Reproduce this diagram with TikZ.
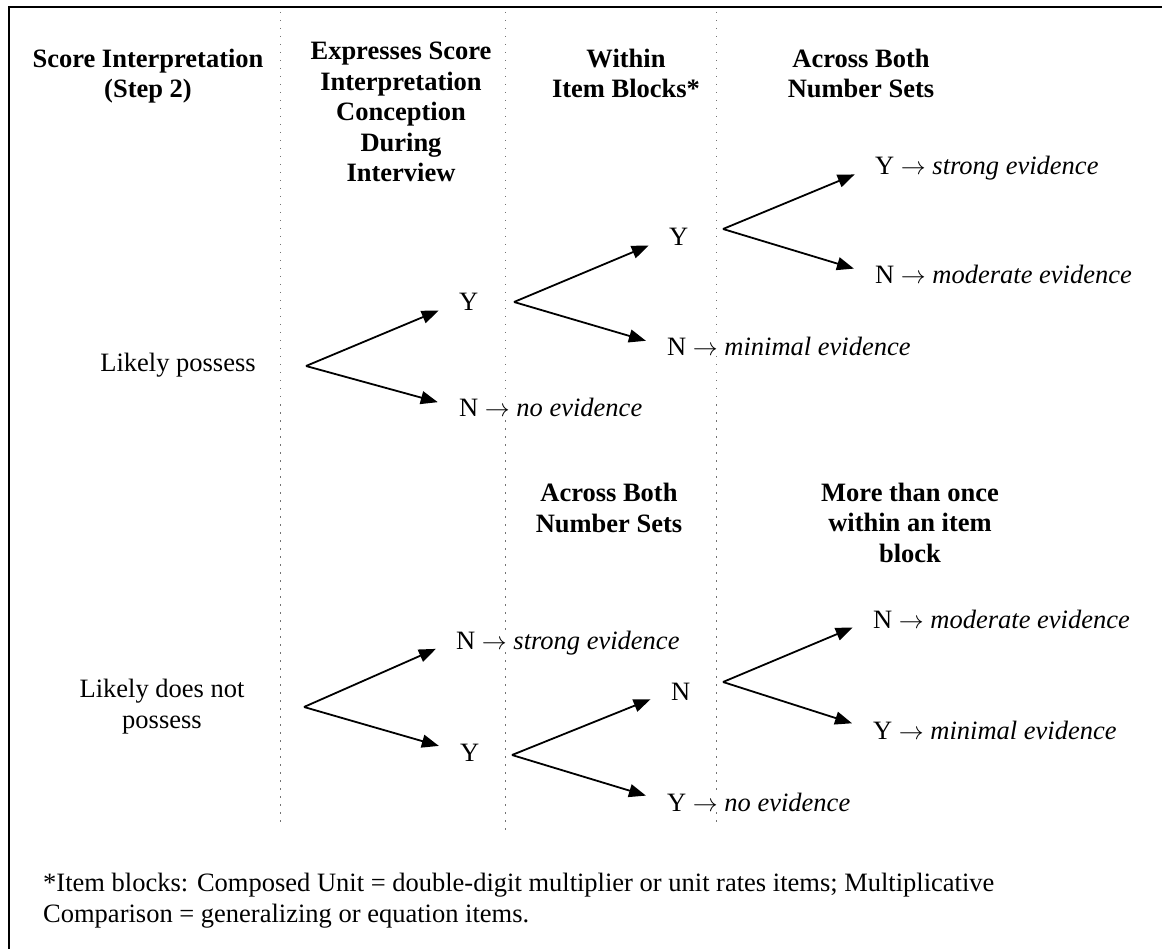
\documentclass[tikz,border=0pt]{standalone}
\usepackage{fontspec}
\setmainfont{Liberation Serif}
\usetikzlibrary{arrows.meta}
\newcommand{\ra}{\ensuremath{\rightarrow}}
\begin{document}
\begin{tikzpicture}[x=1pt,y=-1pt,
  txt/.style={font=\fontsize{26.5}{30.5}\selectfont, inner sep=0pt},
  head/.style={font=\fontsize{26.5}{30.5}\selectfont\bfseries, align=center, anchor=base, inner sep=0pt},
  lab/.style={txt, anchor=west, text height=18pt, text depth=0pt, fill=white},
  arr/.style={-{Triangle[length=17pt,width=13pt]}, line width=1.8pt, shorten >=22pt},
  sepline/.style={black!55, line width=1.5pt, dash pattern=on 1.5pt off 6.5pt},
]
\useasboundingbox (0,0) rectangle (1162,949);
% frame (top and left edges)
\draw[line width=2pt] (8.5,949) -- (8.5,7.5) -- (1162,7.5);
% column separators
\draw[sepline] (280.5,12) -- (280.5,822);
\draw[sepline] (505.5,12) -- (505.5,835);
\draw[sepline] (716.5,12) -- (716.5,827);

% headers (anchor base = baseline of the last line)
\node[head] (h1) at (148,98) {Score Interpretation\\(Step 2)};
\node[head] (h2) at (401,182) {Expresses Score\\Interpretation\\Conception\\During\\Interview};
\node[head] (h3) at (626,98) {Within\\Item Blocks*};
\node[head] (h4) at (861,98) {Across Both\\Number Sets};
\node[head] (h5) at (609,532) {Across Both\\Number Sets};
\node[head] (h6) at (910,562) {More than once\\within an item\\block};

% roots
\node[txt, anchor=base] (lp) at (178,372) {Likely possess};
\node[txt, anchor=base, align=center] (ldp) at (162,728) {Likely does not\\possess};

% branch origins
\coordinate (b1) at (306,366);
\coordinate (b2) at (514,302);
\coordinate (b3) at (723,229);
\coordinate (b4) at (304,707);
\coordinate (b5) at (512,755);
\coordinate (b6) at (723,682);

% top tree labels
\node[lab] (y1) at (459,302) {Y};
\node[lab] (n1) at (459,408) {N \ra{} \textit{no evidence}};
\node[lab] (y2) at (669,237) {Y};
\node[lab] (n2) at (667,347) {N \ra{} \textit{minimal evidence}};
\node[lab] (y3) at (875,166) {Y \ra{} \textit{strong evidence}};
\node[lab] (n3) at (875,275) {N \ra{} \textit{moderate evidence}};
% bottom tree labels
\node[lab] (n4) at (456,640) {N \ra{} \textit{strong evidence}};
\node[lab] (y4) at (460,752) {Y};
\node[lab] (n5) at (671,691) {N};
\node[lab] (y5) at (667,802) {Y \ra{} \textit{no evidence}};
\node[lab] (n6) at (873,619) {N \ra{} \textit{moderate evidence}};
\node[lab] (y6) at (873,730) {Y \ra{} \textit{minimal evidence}};

% arrows
\draw[arr] (b1) -- (y1.west);
\draw[arr] (b1) -- (n1.west);
\draw[arr] (b2) -- (y2.west);
\draw[arr] (b2) -- (n2.west);
\draw[arr] (b3) -- (y3.west);
\draw[arr] (b3) -- (n3.west);
\draw[arr] (b4) -- (n4.west);
\draw[arr] (b4) -- (y4.west);
\draw[arr] (b5) -- (n5.west);
\draw[arr] (b5) -- (y5.west);
\draw[arr] (b6) -- (n6.west);
\draw[arr] (b6) -- (y6.west);

% footnote (anchor base west = baseline of its last line)
\node[txt, anchor=base west, align=left] (fn) at (43,922) {*Item blocks: Composed Unit = double-digit multiplier or unit rates items; Multiplicative\\Comparison = generalizing or equation items.};
\end{tikzpicture}
\end{document}
